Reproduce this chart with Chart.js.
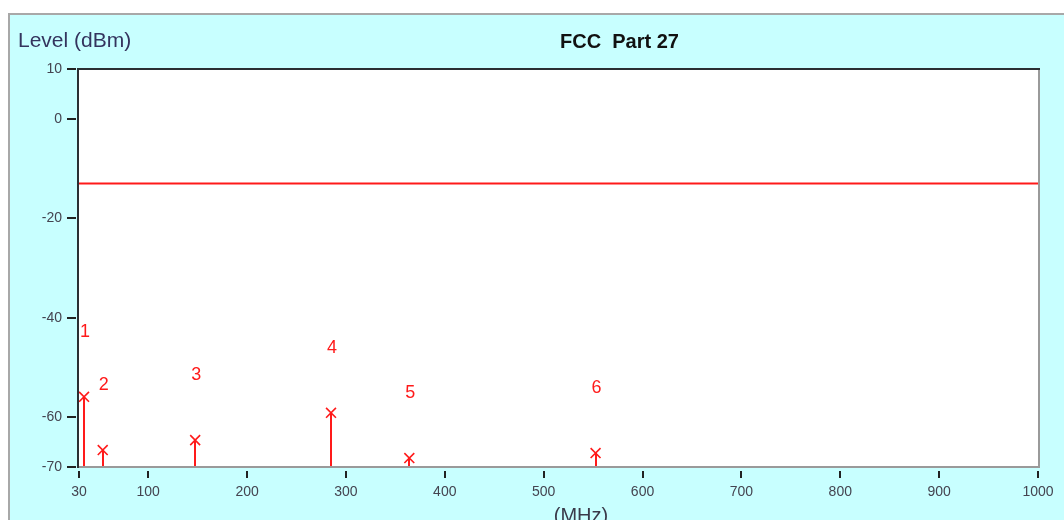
<!DOCTYPE html>
<html>
<head>
<meta charset="utf-8">
<script src="https://cdn.jsdelivr.net/npm/chart.js@4/dist/chart.umd.min.js"></script>
<style>
  html, body { margin: 0; padding: 0; background: #ffffff; }
  canvas { display: block; }
</style>
</head>
<body>
<canvas id="c" width="1064" height="520"></canvas>
<script>
// Spurious emission peaks (frequency in MHz, level in dBm)
const markerFreq   = [35.1, 54, 147.5, 284.9, 364.1, 552.5];
const markerLevel  = [-55.9, -66.6, -64.6, -59.1, -68.2, -67.2];
const markerLabels = ['1', '2', '3', '4', '5', '6'];

// FCC Part 27 limit (dBm)
const limitLevel = -13;

// Axis ticks
const freqTicks  = [30, 100, 200, 300, 400, 500, 600, 700, 800, 900, 1000];
const levelTicks = [10, 0, -20, -40, -60, -70];

const RED = '#ff1a1a';
const CYAN = '#c8ffff';
const FONT = '"Liberation Sans", Arial, sans-serif';

const frame = {
  id: 'frame',
  beforeDraw(chart) {
    const ctx = chart.ctx;
    const a = chart.chartArea;
    ctx.save();
    ctx.fillStyle = '#ffffff';
    ctx.fillRect(0, 0, chart.width, chart.height);
    ctx.fillStyle = CYAN;
    ctx.fillRect(9, 14, chart.width - 9, chart.height - 14);
    ctx.strokeStyle = '#a8a8a8';
    ctx.lineWidth = 2;
    ctx.beginPath();
    ctx.moveTo(9, chart.height);
    ctx.lineTo(9, 14);
    ctx.lineTo(chart.width, 14);
    ctx.stroke();
    ctx.fillStyle = '#ffffff';
    ctx.fillRect(a.left, a.top, a.right - a.left, a.bottom - a.top);

    // headings
    ctx.textBaseline = 'middle';
    ctx.textAlign = 'left';
    ctx.fillStyle = '#34345e';
    ctx.font = '21px ' + FONT;
    ctx.fillText('Level (dBm)', 18, 41);
    ctx.fillStyle = '#111111';
    ctx.font = 'bold 20px ' + FONT;
    ctx.fillText('FCC  Part 27', 560, 42);
    ctx.fillStyle = '#3a3a4a';
    ctx.font = '20px ' + FONT;
    ctx.textAlign = 'center';
    ctx.fillText('(MHz)', 581, 516);
    ctx.restore();
  },
  beforeDatasetsDraw(chart) {
    const ctx = chart.ctx;
    const xs = chart.scales.x, ys = chart.scales.y;
    const base = ys.getPixelForValue(ys.min);
    ctx.save();
    ctx.strokeStyle = RED;
    ctx.lineWidth = 2;
    markerFreq.forEach((f, i) => {
      const px = Math.round(xs.getPixelForValue(f));
      ctx.beginPath();
      ctx.moveTo(px, base);
      ctx.lineTo(px, ys.getPixelForValue(markerLevel[i]));
      ctx.stroke();
    });
    ctx.restore();
  },
  afterDatasetsDraw(chart) {
    const ctx = chart.ctx;
    const a = chart.chartArea;
    const xs = chart.scales.x, ys = chart.scales.y;
    ctx.save();
    // marker numbers
    ctx.fillStyle = RED;
    ctx.font = '18px ' + FONT;
    ctx.textAlign = 'center';
    ctx.textBaseline = 'middle';
    markerFreq.forEach((f, i) => {
      const px = xs.getPixelForValue(f) + 1;
      const py = ys.getPixelForValue(markerLevel[i]) - 65;
      ctx.fillText(markerLabels[i], px, py);
    });

    // plot box
    ctx.lineWidth = 2;
    ctx.strokeStyle = '#9a9a9a';
    ctx.beginPath();
    ctx.moveTo(a.left, a.bottom);
    ctx.lineTo(a.right + 1, a.bottom);
    ctx.lineTo(a.right + 1, a.top);
    ctx.stroke();
    ctx.strokeStyle = '#2a2f33';
    ctx.beginPath();
    ctx.moveTo(a.left - 1, a.bottom + 1);
    ctx.lineTo(a.left - 1, a.top);
    ctx.lineTo(a.right + 2, a.top);
    ctx.stroke();

    // tick marks
    ctx.strokeStyle = '#222222';
    ctx.lineWidth = 2;
    levelTicks.forEach(v => {
      const py = Math.round(ys.getPixelForValue(v));
      ctx.beginPath();
      ctx.moveTo(a.left - 12, py);
      ctx.lineTo(a.left - 3, py);
      ctx.stroke();
    });
    freqTicks.forEach(v => {
      const px = Math.round(xs.getPixelForValue(v));
      ctx.beginPath();
      ctx.moveTo(px, a.bottom + 4);
      ctx.lineTo(px, a.bottom + 11);
      ctx.stroke();
    });
    ctx.restore();
  }
};

new Chart(document.getElementById('c'), {
  type: 'scatter',
  data: {
    datasets: [
      {
        type: 'line',
        data: [{ x: freqTicks[0], y: limitLevel }, { x: freqTicks[freqTicks.length - 1], y: limitLevel }],
        borderColor: RED,
        borderWidth: 2,
        pointRadius: 0
      },
      {
        data: markerFreq.map((f, i) => ({ x: f, y: markerLevel[i] })),
        pointStyle: 'crossRot',
        pointRadius: 7,
        borderColor: RED,
        backgroundColor: RED,
        borderWidth: 1.6
      }
    ]
  },
  options: {
    responsive: false,
    devicePixelRatio: 1,
    animation: false,
    layout: { padding: { left: 0, top: 69, right: 26, bottom: 0 } },
    plugins: { legend: { display: false }, tooltip: { enabled: false } },
    scales: {
      x: {
        type: 'linear',
        min: 30,
        max: 1000,
        afterBuildTicks: s => { s.ticks = freqTicks.map(v => ({ value: v })); },
        afterFit: s => { s.height = 53; s.paddingLeft = 0; s.paddingRight = 0; },
        grid: { display: false, drawTicks: false },
        border: { display: false },
        ticks: {
          padding: 17,
          autoSkip: false,
          maxRotation: 0,
          color: '#444450',
          callback: v => String(v),
          font: { family: FONT, size: 14 }
        }
      },
      y: {
        min: -70,
        max: 10,
        afterBuildTicks: s => { s.ticks = levelTicks.map(v => ({ value: v })); },
        afterFit: s => { s.width = 79; s.paddingTop = 0; s.paddingBottom = 0; },
        grid: { display: false, drawTicks: false },
        border: { display: false },
        ticks: {
          padding: 17,
          autoSkip: false,
          color: '#444450',
          callback: v => String(v),
          font: { family: FONT, size: 14 }
        }
      }
    }
  },
  plugins: [frame]
});
</script>
</body>
</html>
